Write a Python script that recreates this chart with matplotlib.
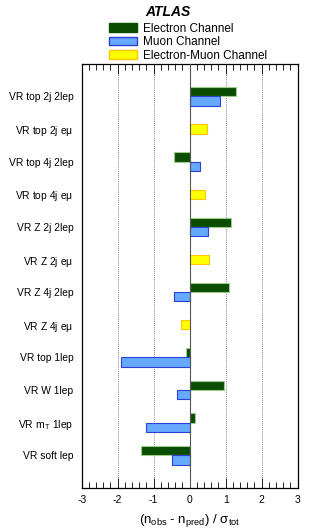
import matplotlib.pyplot as plt
from matplotlib.patches import Patch
from matplotlib.ticker import MultipleLocator

regions = ['VR top 2j 2lep', r'VR top 2j e$\mu$', 'VR top 4j 2lep', r'VR top 4j e$\mu$',
           'VR Z 2j 2lep', r'VR Z 2j e$\mu$', 'VR Z 4j 2lep', r'VR Z 4j e$\mu$',
           'VR top 1lep', 'VR W 1lep', r'VR m$_{\,\mathrm{T}}$ 1lep', 'VR soft lep']

# None where the channel does not exist for that region
electron = [1.30, None, -0.44, None, 1.16, None, 1.10, None, -0.09, 0.95, 0.15, -1.35]
muon = [0.85, None, 0.30, None, 0.50, None, -0.43, None, -1.90, -0.36, -1.20, -0.48]
elmu = [None, 0.47, None, 0.42, None, 0.55, None, -0.23, None, None, None, None]
xticks = [-3, -2, -1, 0, 1, 2, 3]

plt.rcParams['font.family'] = ['Liberation Sans', 'DejaVu Sans']
plt.rcParams['mathtext.fontset'] = 'custom'
plt.rcParams['mathtext.rm'] = 'Liberation Sans'
plt.rcParams['mathtext.it'] = 'Liberation Sans'

fig = plt.figure(figsize=(3.13, 5.31), dpi=100)
ax = fig.add_axes([0.261, 0.081, 0.690, 0.799])

h = 0.285
green = dict(color='#0b4d00', edgecolor='#9acd8a', linewidth=0.8)
blue = dict(color='#66aaff', edgecolor='#2a3fd8', linewidth=0.8)
yellow = dict(color='#ffff00', edgecolor='#ffc400', linewidth=0.8)

for i in range(len(regions)):
    if electron[i] is not None:
        ax.barh(i - h / 2, electron[i], height=h, **green, zorder=3)
    if muon[i] is not None:
        ax.barh(i + h / 2, muon[i], height=h, **blue, zorder=3)
    if elmu[i] is not None:
        ax.barh(i, elmu[i], height=h, **yellow, zorder=3)

ax.set_xlim(-3, 3)
ax.set_ylim(12, -1)
ax.set_yticks(range(len(regions)))
ax.set_yticklabels(regions, fontsize=7.4)
ax.tick_params(axis='y', length=0, pad=6)

ax.set_xticks(xticks)
ax.set_xticklabels([str(t) for t in xticks])
ax.xaxis.set_minor_locator(MultipleLocator(0.2))
ax.tick_params(axis='x', which='major', direction='in', top=True, length=7, width=0.6,
               labelsize=7.5, pad=5)
ax.tick_params(axis='x', which='minor', direction='in', top=True, length=4, width=0.6)

for x in [-2, -1, 1, 2]:
    ax.axvline(x, color='#555555', linestyle=(0, (1, 1.5)), linewidth=0.6, zorder=1)
ax.axvline(0, color='#555555', linewidth=0.8, zorder=4)

for s in ax.spines.values():
    s.set_linewidth(0.9)

ax.set_xlabel(r'(n$_{\rm obs}$ - n$_{\rm pred}$) / $\sigma_{\rm tot}$', fontsize=9.5, labelpad=5)

fig.text(0.535, 0.978, 'ATLAS', fontsize=10, fontweight='bold', fontstyle='italic',
         ha='center', va='center')
handles = [Patch(facecolor='#0b4d00', edgecolor='#0b4d00', label='Electron Channel'),
           Patch(facecolor='#66aaff', edgecolor='#2a3fd8', label='Muon Channel'),
           Patch(facecolor='#ffff00', edgecolor='#ffc400', label='Electron-Muon Channel')]
fig.legend(handles=handles, loc='upper left', bbox_to_anchor=(0.348, 0.957), frameon=False,
           fontsize=8.5, handlelength=2.35, handleheight=0.75, handletextpad=0.5,
           labelspacing=0.12, borderpad=0, borderaxespad=0)

fig.savefig('out.png', dpi=100)
